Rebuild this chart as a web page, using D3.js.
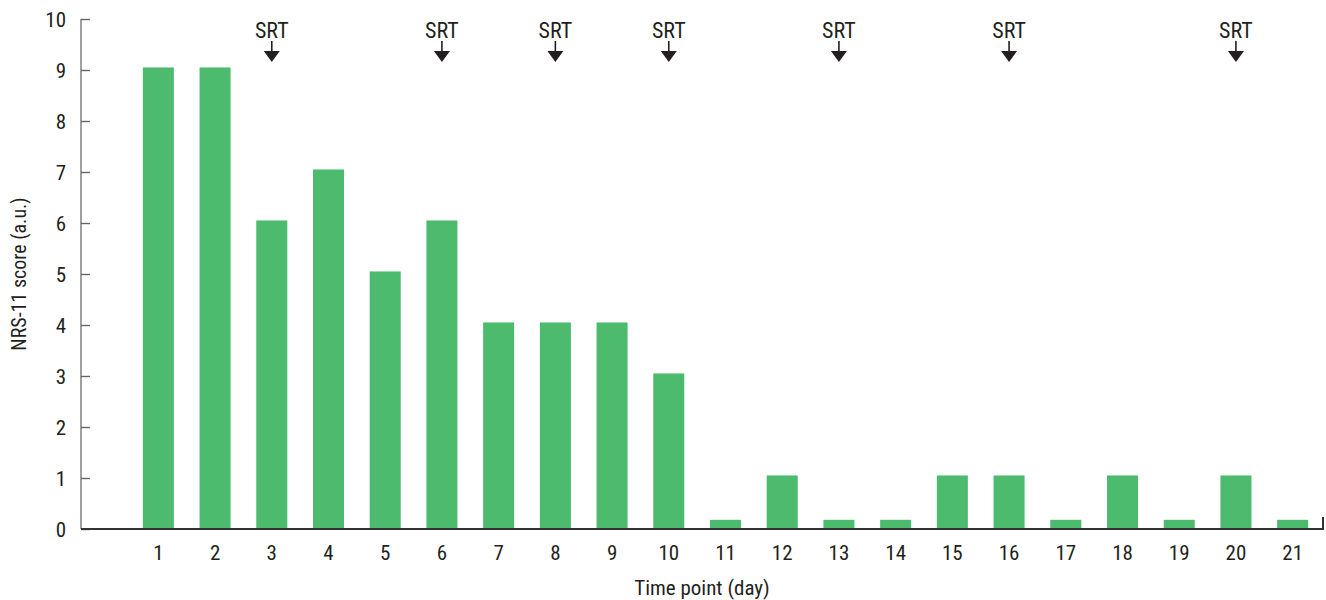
<!DOCTYPE html>
<html><head><meta charset="utf-8">
<script src="https://cdn.jsdelivr.net/npm/d3@7"></script>
<style>
body{margin:0;background:#fff;}
text{font-family:"Roboto Condensed","Liberation Sans Narrow","DejaVu Sans Condensed",Roboto,sans-serif;font-stretch:condensed;fill:#231f20;}
</style></head>
<body><svg id="c" width="1326" height="600"></svg>
<script>
const days = ["1","2","3","4","5","6","7","8","9","10","11","12","13","14","15","16","17","18","19","20","21"];
const scores = [9.05,9.05,6.05,7.05,5.05,6.05,4.05,4.05,4.05,3.05,0.18,1.05,0.18,0.18,1.05,1.05,0.18,1.05,0.18,1.05,0.18];
const srtDays = ["3","6","8","10","13","16","20"];
const yTicks = [0,1,2,3,4,5,6,7,8,9,10];

const svg = d3.select("#c");
const x = d3.scaleBand().domain(days).range([130, 1321]).paddingInner(0.453).paddingOuter(0.2265);
const y = d3.scaleLinear().domain([0,10]).range([529, 19]);
const axX0 = 81, axX1 = 1323;

// bars
svg.append("g").selectAll("rect").data(days).join("rect")
  .attr("x", d => x(d)).attr("width", x.bandwidth())
  .attr("y", (d,i) => y(scores[i])).attr("height", (d,i) => y(0) - y(scores[i]))
  .attr("fill", "#4dbb6e");

// y axis
const ya = svg.append("g").attr("transform", `translate(${axX0},0)`)
  .call(d3.axisRight(y).tickValues(yTicks).tickSize(9).tickFormat(""));
ya.select(".domain").attr("stroke", "#888").attr("stroke-width", 1.6).attr("d", `M0,${y(10)}V${y(0)}`);
ya.selectAll(".tick line").attr("stroke", "#666").attr("stroke-width", 1.4);
svg.append("g").selectAll("text").data(yTicks).join("text")
  .attr("x", 66).attr("y", d => y(d)).attr("dy", "0.36em").attr("text-anchor", "end")
  .attr("font-size", 21).text(d => d);

// x axis
svg.append("path").attr("d", `M${axX0},${y(0)}H${axX1}V${y(0)-12}`)
  .attr("fill", "none").attr("stroke", "#333").attr("stroke-width", 2);
const xa = svg.append("g").attr("transform", `translate(0,${y(0)})`)
  .call(d3.axisBottom(x).tickSize(0).tickPadding(16));
xa.select(".domain").remove();
xa.selectAll("text").attr("font-size", 21).attr("fill", "#231f20")
  .attr("font-family", null);

// axis titles
svg.append("text").attr("x", 702).attr("y", 587).attr("dy", "0.36em").attr("text-anchor", "middle")
  .attr("font-size", 21).text("Time point (day)");
svg.append("text").attr("transform", `translate(19,${y(5)}) rotate(-90)`).attr("dy", "0.36em")
  .attr("text-anchor", "middle").attr("font-size", 20).text("NRS-11 score (a.u.)");

// SRT markers
const g = svg.append("g").selectAll("g").data(srtDays).join("g")
  .attr("transform", d => `translate(${x(d) + x.bandwidth()/2},0)`);
g.append("text").attr("y", 38).attr("text-anchor", "middle").attr("font-size", 22).text("SRT");
g.append("line").attr("x1", 0).attr("x2", 0).attr("y1", 41).attr("y2", 53).attr("stroke", "#231f20").attr("stroke-width", 1.6);
g.append("path").attr("d", "M-8,51H8L0,62Z").attr("fill", "#231f20");
</script></body></html>
